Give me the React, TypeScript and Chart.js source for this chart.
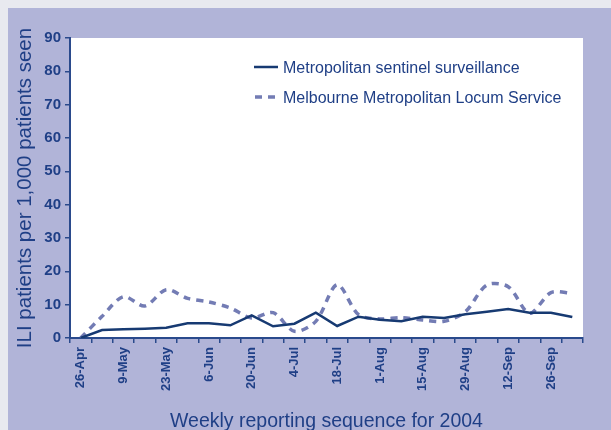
import React, { useEffect, useRef } from "react";
import { Chart, registerables } from "chart.js";

Chart.register(...registerables);

const weeks = [
  "26-Apr", "2-May", "9-May", "16-May", "23-May", "30-May", "6-Jun", "13-Jun",
  "20-Jun", "27-Jun", "4-Jul", "11-Jul", "18-Jul", "25-Jul", "1-Aug", "8-Aug",
  "15-Aug", "22-Aug", "29-Aug", "5-Sep", "12-Sep", "19-Sep", "26-Sep", "3-Oct",
];

const sentinel = [
  0, 2.4, 2.6, 2.8, 3.1, 4.4, 4.4, 3.8, 6.8, 3.5, 4.3, 7.6, 3.6, 6.4, 5.5, 5.0,
  6.4, 6.0, 7.1, 7.9, 8.7, 7.6, 7.6, 6.3,
];

const locum = [
  0, 6.5, 12.4, 9.6, 14.5, 11.9, 10.8, 9.0, 6.0, 7.6, 2.0, 5.0, 16.0, 7.0, 5.7,
  6.1, 5.4, 5.0, 7.9, 15.9, 15.4, 7.4, 13.6, 13.4,
];

const seriesNames = [
  "Metropolitan sentinel surveillance",
  "Melbourne Metropolitan Locum Service",
];

const yTitle = "ILI patients per 1,000 patients seen";
const xTitle = "Weekly reporting sequence for 2004";

const FONT = "'Liberation Sans', Arial, Helvetica, sans-serif";
const NAVY = "#1f3f86";
const AXIS = "#2a4a8c";
const SOLID = "#173a72";
const DASH = "#737cb4";

const legendPlugin = {
  id: "customLegend",
  afterDraw(chart: any) {
    const ctx = chart.ctx;
    const x0 = 246;
    const rows = [61, 91];
    ctx.save();
    ctx.font = `16px ${FONT}`;
    ctx.textBaseline = "middle";
    ctx.fillStyle = NAVY;
    ctx.strokeStyle = SOLID;
    ctx.lineWidth = 2.5;
    ctx.setLineDash([]);
    ctx.beginPath();
    ctx.moveTo(x0, rows[0] - 2);
    ctx.lineTo(x0 + 24, rows[0] - 2);
    ctx.stroke();
    ctx.fillText(seriesNames[0], x0 + 29, rows[0]);
    ctx.strokeStyle = DASH;
    ctx.lineWidth = 3.5;
    ctx.setLineDash([7, 6]);
    ctx.beginPath();
    ctx.moveTo(x0 + 1, rows[1] - 2);
    ctx.lineTo(x0 + 22, rows[1] - 2);
    ctx.stroke();
    ctx.setLineDash([]);
    ctx.fillText(seriesNames[1], x0 + 29, rows[1]);
    ctx.restore();
  },
};

const plotBg = {
  id: "plotBg",
  beforeDraw(chart: any) {
    const { ctx, chartArea } = chart;
    ctx.save();
    ctx.fillStyle = "#b1b4d8";
    ctx.fillRect(0, 0, chart.width, chart.height);
    ctx.fillStyle = "#ffffff";
    ctx.fillRect(
      chartArea.left,
      chartArea.top,
      chartArea.right - chartArea.left,
      chartArea.bottom - chartArea.top
    );
    ctx.restore();
  },
};

export default function App() {
  const ref = useRef<HTMLCanvasElement | null>(null);

  useEffect(() => {
    document.body.style.background = "#e8e9ef";
    if (!ref.current) return;
    const chart = new Chart(ref.current, {
      type: "line",
      data: {
        labels: weeks,
        datasets: [
          {
            label: seriesNames[0],
            data: sentinel,
            borderColor: SOLID,
            borderWidth: 2.5,
            pointRadius: 0,
            tension: 0,
            fill: false,
          },
          {
            label: seriesNames[1],
            data: locum,
            borderColor: DASH,
            borderWidth: 3.5,
            borderDash: [7, 6],
            pointRadius: 0,
            tension: 0.3,
            fill: false,
          },
        ],
      },
      options: {
        animation: false,
        responsive: false,
        maintainAspectRatio: false,
        layout: { padding: { top: 30, right: 28, left: 0, bottom: 0 } },
        plugins: {
          legend: { display: false },
          tooltip: { enabled: false },
        },
        scales: {
          x: {
            offset: true,
            grid: {
              offset: true,
              drawOnChartArea: false,
              drawTicks: true,
              tickLength: 5,
              color: AXIS,
              lineWidth: 1.5,
            },
            border: { display: true, color: AXIS, width: 2 },
            ticks: {
              autoSkip: false,
              maxRotation: 90,
              minRotation: 90,
              padding: 4,
              color: NAVY,
              font: { family: FONT, size: 13, weight: "bold" },
              callback: (_v: any, i: number) => (i % 2 === 0 ? weeks[i] : ""),
            },
            title: {
              display: true,
              text: xTitle,
              color: NAVY,
              font: { family: FONT, size: 19.5 },
              padding: { top: 0, bottom: -3 },
            },
            afterFit: (scale: any) => {
              scale.height = 92;
            },
          },
          y: {
            min: 0,
            max: 90,
            grid: {
              drawOnChartArea: false,
              drawTicks: true,
              tickLength: 5,
              color: AXIS,
              lineWidth: 1.5,
            },
            border: { display: true, color: AXIS, width: 2 },
            ticks: {
              stepSize: 10,
              padding: 4,
              color: NAVY,
              font: { family: FONT, size: 15, weight: "bold" },
            },
            title: {
              display: true,
              text: yTitle,
              color: NAVY,
              font: { family: FONT, size: 20.5 },
              padding: { top: 5, bottom: 0 },
            },
            afterFit: (scale: any) => {
              scale.width = 62;
            },
          },
        },
      },
      plugins: [plotBg, legendPlugin],
    });
    return () => chart.destroy();
  }, []);

  return (
    <div
      style={{
        position: "absolute",
        left: 8,
        top: 8,
        width: 603,
        height: 422,
        overflow: "hidden",
      }}
    >
      <canvas ref={ref} width={603} height={422} style={{ display: "block" }} />
    </div>
  );
}
